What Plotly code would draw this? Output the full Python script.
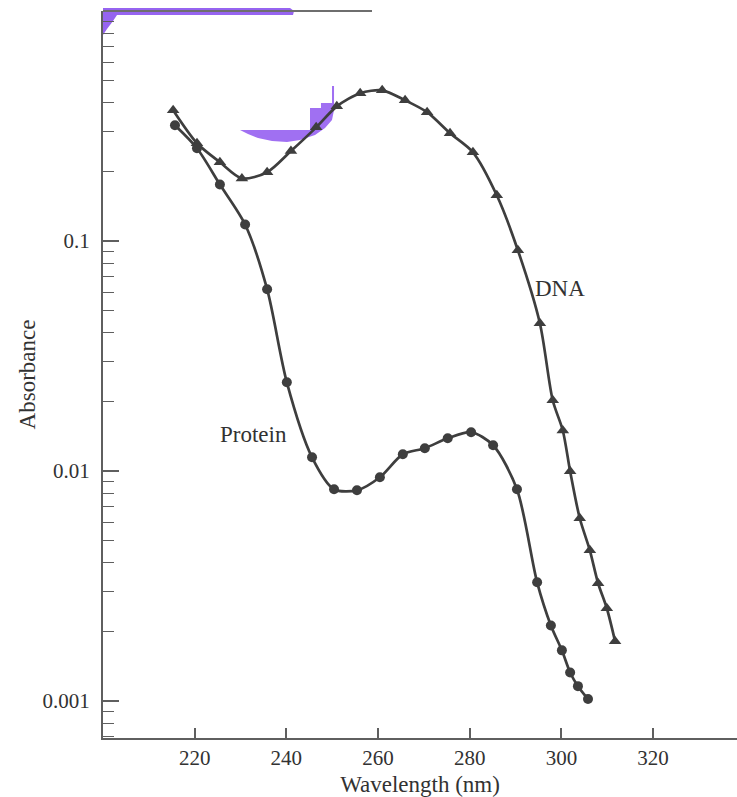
import plotly.graph_objects as go

# ---- data ----
dna_wavelength = [215.3, 220.5, 225.5, 230.3, 235.8, 241.0, 246.5, 251.0, 256.1, 260.9,
                  265.9, 270.7, 275.7, 280.7, 285.9, 290.5, 295.3, 298.1, 300.3, 301.9,
                  304.0, 306.2, 308.0, 309.9, 311.7]
dna_absorbance = [0.370, 0.266, 0.220, 0.187, 0.199, 0.246, 0.312, 0.385, 0.439, 0.452,
                  0.409, 0.363, 0.294, 0.243, 0.158, 0.0912, 0.0439, 0.0203, 0.0150, 0.00998,
                  0.00623, 0.00452, 0.00325, 0.00253, 0.00182]

protein_wavelength = [215.7, 220.5, 225.5, 231.0, 235.8, 240.1, 245.6, 250.4, 255.4, 260.4,
                      265.4, 270.2, 275.2, 280.3, 285.1, 290.3, 294.7, 297.7, 300.1, 301.9,
                      303.6, 305.8]
protein_absorbance = [0.3185, 0.253, 0.176, 0.118, 0.0617, 0.0243, 0.01147, 0.00833, 0.00824, 0.00939,
                      0.01182, 0.01256, 0.01387, 0.01474, 0.01294, 0.00833, 0.00328, 0.00213, 0.00166, 0.00133,
                      0.00116, 0.00102]

x_tick_values = [220, 240, 260, 280, 300, 320]
y_tick_values = [0.001, 0.01, 0.1]
y_tick_labels = ["0.001", "0.01", "0.1"]

# ---- figure ----
W, H = 737, 797
L, R, T, B = 103, 0, 11, 59
LINE = "rgb(62,62,62)"
TXT = "rgb(50,50,50)"
AX = "rgb(95,95,95)"
FONT = "Liberation Serif"


def px_path(points):
    """points given in pixels of the reference picture"""
    pw, ph = W - L - R, H - T - B
    parts = []
    for i, (px, py) in enumerate(points):
        fx = (px - L) / pw
        fy = (H - B - py) / ph
        parts.append(("M" if i == 0 else "L") + f"{fx:.4f},{fy:.4f}")
    return " ".join(parts) + " Z"


fig = go.Figure()

fig.add_trace(go.Scatter(
    x=dna_wavelength, y=dna_absorbance, mode="lines+markers", name="DNA",
    line=dict(color=LINE, width=2.7, shape="spline", smoothing=0.8),
    marker=dict(symbol="triangle-up", size=11, color=LINE),
))
fig.add_trace(go.Scatter(
    x=protein_wavelength, y=protein_absorbance, mode="lines+markers", name="Protein",
    line=dict(color=LINE, width=2.7, shape="spline", smoothing=0.8),
    marker=dict(symbol="circle", size=10, color=LINE),
))

minor_vals = [m * 10 ** e for e in (-4, -3, -2, -1) for m in range(2, 10)]

fig.update_xaxes(
    range=[200, 338.3], tickvals=x_tick_values, ticks="inside", ticklen=10,
    tickwidth=1.5, tickcolor=AX, showline=True, linecolor=AX,
    linewidth=2, showgrid=False, zeroline=False, automargin=False,
    tickfont=dict(family=FONT, size=21, color=TXT), ticklabelstandoff=0,
    title=dict(text="Wavelength (nm)", font=dict(family=FONT, size=23, color=TXT), standoff=8),
)
fig.update_yaxes(
    type="log", range=[-3.161, 0], tickvals=y_tick_values, ticktext=y_tick_labels,
    ticks="inside", ticklen=16, tickwidth=1.5, tickcolor=AX,
    showline=True, linecolor=AX, linewidth=2, showgrid=False, zeroline=False,
    automargin=False,
    tickfont=dict(family=FONT, size=21, color=TXT), ticklabelstandoff=7,
    minor=dict(tickvals=minor_vals, ticks="inside", ticklen=11, tickwidth=1.3,
               tickcolor=AX, showgrid=False),
    title=dict(text="Absorbance", font=dict(family=FONT, size=23, color=TXT), standoff=0),
)

fig.add_annotation(x=299.7, y=-1.2057, text="DNA", showarrow=False,
                   font=dict(family=FONT, size=23, color=TXT))
fig.add_annotation(x=232.9, y=-1.840, text="Protein", showarrow=False,
                   font=dict(family=FONT, size=23, color=TXT))

shapes = [
    # partial top border
    dict(type="line", xref="paper", yref="paper", x0=0, x1=(372 - L) / (W - L - R), y0=1, y1=1,
         line=dict(color="rgb(110,110,110)", width=2)),
    # purple overlay artefacts
    dict(type="path", xref="paper", yref="paper", layer="below",
         path=px_path([(103, 8), (290, 8), (294, 11), (293, 15), (117, 15), (113, 21), (107, 29), (103, 35)]),
         fillcolor="rgb(150,100,240)", line=dict(width=0)),
    dict(type="path", xref="paper", yref="paper", layer="below",
         path=px_path([(240, 130), (310, 130), (310, 108), (321, 108), (321, 103), (332, 103),
                       (332, 86), (334, 86), (334, 110), (332, 120), (325, 128), (315, 135),
                       (300, 140), (287, 142), (272, 141), (258, 138), (248, 134)]),
         fillcolor="rgb(160,112,242)", line=dict(width=0)),
]

fig.update_layout(
    width=W, height=H, margin=dict(l=L, r=R, t=T, b=B, pad=0),
    plot_bgcolor="white", paper_bgcolor="white", showlegend=False,
    shapes=shapes,
)

fig.write_html("out.html", config={"displayModeBar": False},
               post_script="document.body.style.margin='0';"
                           "document.documentElement.style.overflow='hidden';")
